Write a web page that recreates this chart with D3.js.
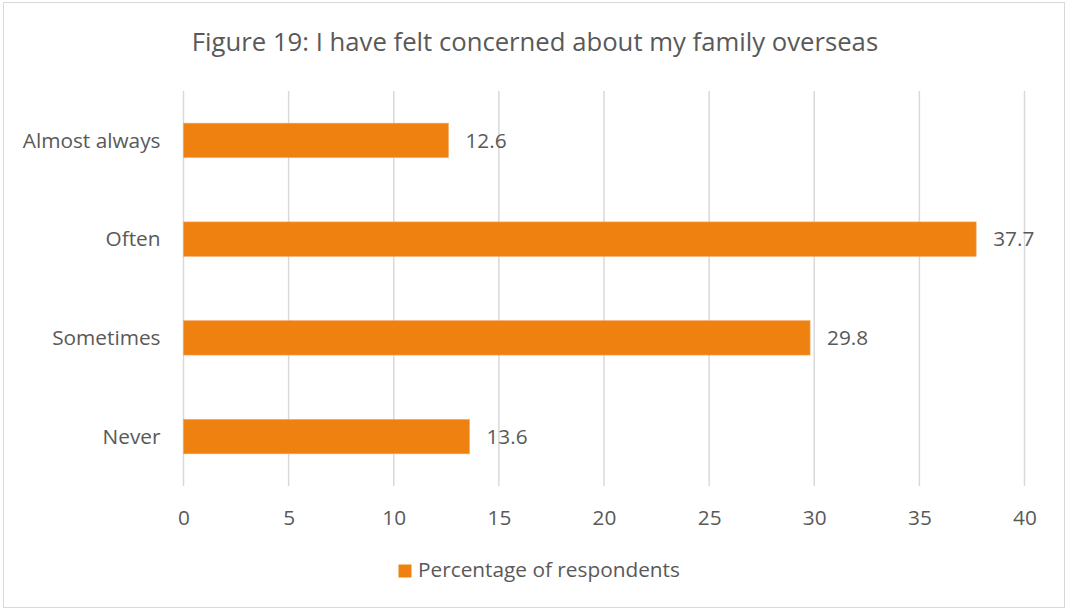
<!DOCTYPE html>
<html>
<head>
<meta charset="utf-8">
<script src="https://cdn.jsdelivr.net/npm/d3@7"></script>
<style>
  html, body { margin: 0; padding: 0; background: #fff; }
  svg { display: block; }
  text { font-family: "Open Sans", sans-serif; fill: #595959; }
</style>
</head>
<body>
<svg id="chart" width="1066" height="610"></svg>
<script>
// Survey responses: "I have felt concerned about my family overseas"
const categories = ["Almost always", "Often", "Sometimes", "Never"];
const values = [12.6, 37.7, 29.8, 13.6];
const xTicks = [0, 5, 10, 15, 20, 25, 30, 35, 40];
const seriesName = "Percentage of respondents";
const titleText = "Figure 19: I have felt concerned about my family overseas";

const svg = d3.select("#chart");
const W = 1066, H = 610;
const barColor = "#EF8110";
const gridColor = "#D9D9D9";
const fontFamily = "'Open Sans', sans-serif";
const labelSize = 20.8;

// outer chart frame
svg.append("rect")
  .attr("x", 3.5).attr("y", 2.5)
  .attr("width", W - 5).attr("height", H - 5)
  .attr("fill", "#fff")
  .attr("stroke", "#D9D9D9").attr("stroke-width", 1);

const plot = { left: 183.5, right: 1024.5, top: 91, bottom: 486 };

const x = d3.scaleLinear().domain([0, 40]).range([plot.left, plot.right]);
const y = d3.scaleBand().domain(categories).range([plot.top, plot.bottom])
  .paddingInner(0.652).paddingOuter(0.326);

// title
svg.append("text")
  .attr("x", 535).attr("y", 51)
  .attr("text-anchor", "middle")
  .attr("font-size", 25.7)
  .text(titleText);

// vertical gridlines
svg.append("g").selectAll("line")
  .data(xTicks).join("line")
  .attr("x1", d => x(d)).attr("x2", d => x(d))
  .attr("y1", plot.top).attr("y2", plot.bottom)
  .attr("stroke", gridColor).attr("stroke-width", 1.5);

// x axis tick labels
const xAxis = d3.axisBottom(x).tickValues(xTicks).tickSize(0).tickPadding(0).tickFormat(d3.format("d"));
const gx = svg.append("g")
  .attr("transform", `translate(0,525)`)
  .call(xAxis);
gx.select(".domain").remove();
gx.selectAll("text")
  .attr("y", 0)
  .attr("dy", 0)
  .attr("font-size", labelSize)
  .attr("fill", "#595959")
  .style("font-family", fontFamily);

// y axis category labels
const yAxis = d3.axisLeft(y).tickSize(0).tickPadding(0);
const gy = svg.append("g")
  .attr("transform", `translate(${plot.left - 23},0)`)
  .call(yAxis);
gy.select(".domain").remove();
gy.selectAll("text")
  .attr("dy", "0.35em")
  .attr("font-size", labelSize)
  .attr("fill", "#595959")
  .style("font-family", fontFamily);

// bars
svg.append("g").selectAll("rect")
  .data(categories).join("rect")
  .attr("x", x(0))
  .attr("y", d => y(d))
  .attr("width", (d, i) => x(values[i]) - x(0))
  .attr("height", y.bandwidth())
  .attr("fill", barColor)
  .attr("stroke", "#F4A25A").attr("stroke-width", 0.6);

// value labels
svg.append("g").selectAll("text")
  .data(categories).join("text")
  .attr("x", (d, i) => x(values[i]) + 17)
  .attr("y", d => y(d) + y.bandwidth() / 2)
  .attr("dy", "0.35em")
  .attr("font-size", labelSize)
  .text((d, i) => values[i].toFixed(1));

// legend
const lg = svg.append("g");
lg.append("rect")
  .attr("x", 398.5).attr("y", 564.5)
  .attr("width", 13).attr("height", 13)
  .attr("fill", barColor);
lg.append("text")
  .attr("x", 418).attr("y", 577)
  .attr("font-size", labelSize)
  .text(seriesName);
</script>
</body>
</html>
